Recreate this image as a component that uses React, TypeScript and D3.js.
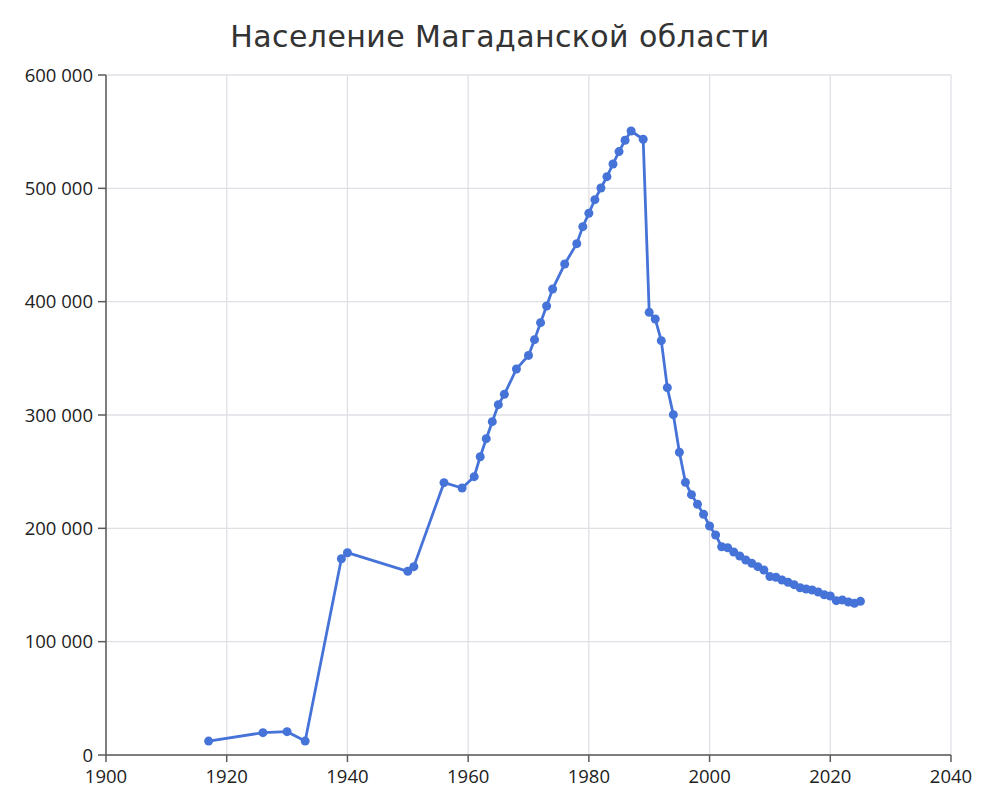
import React from "react";
import * as d3 from "d3";

const years: number[] = [
  1917, 1926, 1930, 1933, 1939, 1940, 1950, 1951, 1956, 1959, 1961, 1962, 1963, 1964, 1965, 1966,
  1968, 1970, 1971, 1972, 1973, 1974, 1976, 1978, 1979, 1980, 1981, 1982, 1983, 1984, 1985, 1986,
  1987, 1989, 1990, 1991, 1992, 1993, 1994, 1995, 1996, 1997, 1998, 1999, 2000, 2001, 2002, 2003,
  2004, 2005, 2006, 2007, 2008, 2009, 2010, 2011, 2012, 2013, 2014, 2015, 2016, 2017, 2018, 2019,
  2020, 2021, 2022, 2023, 2024, 2025,
];

const population: number[] = [
  12300, 19700, 20600, 12300, 173200, 178500, 162100, 166200, 240300, 235600, 245600, 263200,
  279100, 294100, 309100, 318200, 340600, 352600, 366500, 381500, 396200, 411200, 433200, 451200,
  466200, 478000, 490000, 500300, 510300, 521500, 532400, 542400, 550600, 543300, 390600, 384700,
  365600, 324100, 300300, 267100, 240600, 229700, 221200, 212400, 202100, 194100, 183800, 182900,
  179100, 175600, 172100, 169100, 166200, 163200, 157400, 156800, 154400, 152400, 150300, 147600,
  146500, 145600, 143800, 141400, 140300, 136200, 136800, 135000, 133800, 135600,
];

const xTicks: number[] = [1900, 1920, 1940, 1960, 1980, 2000, 2020, 2040];
const yTicks: number[] = [0, 100000, 200000, 300000, 400000, 500000, 600000];
const title = "Население Магаданской области";

const W = 1000;
const H = 811;
const M = { left: 106, right: 49, top: 75, bottom: 56 };

export default function App() {
  const x = d3.scaleLinear().domain([1900, 2040]).range([M.left, W - M.right]);
  const y = d3.scaleLinear().domain([0, 600000]).range([H - M.bottom, M.top]);
  const pts = years.map((yr, i) => [yr, population[i]] as [number, number]);
  const line = d3
    .line<[number, number]>()
    .x((d) => x(d[0]))
    .y((d) => y(d[1]));
  const fmt = (v: number) => d3.format(",")(v).replace(/,/g, " ");
  const color = "#4673d8";
  const labelFont = "'Open Sans', 'Noto Sans', sans-serif";

  return (
    <svg
      width={W}
      height={H}
      style={{ position: "absolute", left: 0, top: 0, background: "#fff" }}
    >
      <text
        x={W / 2}
        y={47}
        textAnchor="middle"
        fontFamily="'DejaVu Sans', sans-serif"
        fontSize={30}
        letterSpacing={0.4}
        fill="#333"
      >
        {title}
      </text>
      <g>
        {yTicks.map((t) => (
          <line key={"gy" + t} x1={M.left} x2={W - M.right} y1={y(t)} y2={y(t)} stroke="#dfdfe6" strokeWidth={1.3} />
        ))}
        {xTicks.map((t) => (
          <line key={"gx" + t} x1={x(t)} x2={x(t)} y1={M.top} y2={H - M.bottom} stroke="#dfdfe6" strokeWidth={1.3} />
        ))}
      </g>
      <g>
        <line x1={M.left} x2={M.left} y1={M.top} y2={H - M.bottom} stroke="#5a5a5a" strokeWidth={1.5} />
        <line x1={M.left} x2={W - M.right} y1={H - M.bottom} y2={H - M.bottom} stroke="#5a5a5a" strokeWidth={1.5} />
        {yTicks.map((t) => (
          <g key={"ty" + t}>
            <line x1={M.left - 8} x2={M.left} y1={y(t)} y2={y(t)} stroke="#5a5a5a" strokeWidth={1.5} />
            <text
              x={M.left - 13}
              y={y(t)}
              dy="0.36em"
              textAnchor="end"
              fontFamily={labelFont}
              fontSize={18.5}
              fill="#222"
            >
              {fmt(t)}
            </text>
          </g>
        ))}
        {xTicks.map((t) => (
          <g key={"tx" + t}>
            <line x1={x(t)} x2={x(t)} y1={H - M.bottom} y2={H - M.bottom + 7} stroke="#5a5a5a" strokeWidth={1.5} />
            <text
              x={x(t)}
              y={H - M.bottom + 28}
              textAnchor="middle"
              fontFamily={labelFont}
              fontSize={18.5}
              fill="#222"
            >
              {t}
            </text>
          </g>
        ))}
      </g>
      <path d={line(pts) || ""} fill="none" stroke={color} strokeWidth={2.8} strokeLinejoin="round" />
      {pts.map((d, i) => (
        <circle key={i} cx={x(d[0])} cy={y(d[1])} r={4.5} fill={color} />
      ))}
    </svg>
  );
}
